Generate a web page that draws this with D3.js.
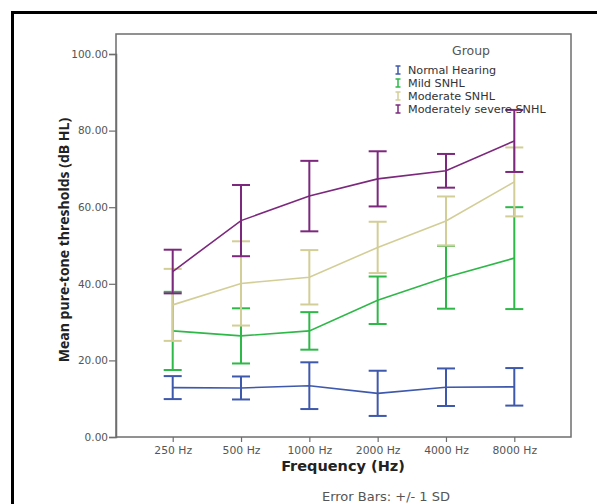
<!DOCTYPE html>
<html>
<head>
<meta charset="utf-8">
<script src="https://cdn.jsdelivr.net/npm/d3@7"></script>
<style>
  html, body { margin: 0; padding: 0; background: #fff; }
  svg { display: block; font-family: "DejaVu Sans", sans-serif; }
</style>
</head>
<body>
<svg id="chart" width="597" height="504"></svg>
<script>
// Frequencies on the x axis
const frequencies = ["250 Hz", "500 Hz", "1000 Hz", "2000 Hz", "4000 Hz", "8000 Hz"];
// Hearing groups (legend order)
const groups = ["Normal Hearing", "Mild SNHL", "Moderate SNHL", "Moderately severe SNHL"];
const groupColors = ["#3E58AC", "#2EB848", "#D3CE97", "#7C287D"];

// Mean thresholds (dB HL) per group
const meanNormal   = [12.9, 12.8, 13.4, 11.4, 13.0, 13.1];
const meanMild     = [27.7, 26.4, 27.7, 35.7, 41.7, 46.7];
const meanModerate = [34.5, 40.1, 41.7, 49.5, 56.4, 66.6];
const meanModSev   = [43.2, 56.5, 62.9, 67.4, 69.5, 77.3];
// Standard deviations per group
const sdNormal   = [3.0, 3.0, 6.1, 5.9, 4.9, 4.9];
const sdMild     = [10.2, 7.2, 4.9, 6.2, 8.2, 13.3];
const sdModerate = [9.4, 11.0, 7.1, 6.7, 6.4, 9.0];
const sdModSev   = [5.7, 9.3, 9.2, 7.2, 4.4, 8.1];

const yTicks = [0, 20, 40, 60, 80, 100];

const means = [meanNormal, meanMild, meanModerate, meanModSev];
const sds = [sdNormal, sdMild, sdModerate, sdModSev];

const svg = d3.select("#chart");

// outer border
svg.append("rect")
  .attr("x", 12.5).attr("y", 12.5)
  .attr("width", 620).attr("height", 620)
  .attr("fill", "none").attr("stroke", "#000").attr("stroke-width", 3);

const plot = { left: 116, right: 571, top: 34, bottom: 437 };

const x = d3.scalePoint()
  .domain(frequencies)
  .range([plot.left, plot.right])
  .padding(0.83);

const y = d3.scaleLinear()
  .domain([0, 100])
  .range([plot.bottom, 54]);

// plot frame
svg.append("rect")
  .attr("x", plot.left).attr("y", plot.top)
  .attr("width", plot.right - plot.left).attr("height", plot.bottom - plot.top)
  .attr("fill", "none").attr("stroke", "#6e6e6e").attr("stroke-width", 1.5);

// y axis
const yAxis = svg.append("g")
  .attr("transform", `translate(${plot.left},0)`)
  .call(d3.axisLeft(y).tickValues(yTicks).tickFormat(d3.format(".2f")).tickSize(7).tickPadding(1));
yAxis.select(".domain").attr("stroke", "#6e6e6e").attr("stroke-width", 1.5);
yAxis.selectAll(".tick line").attr("stroke", "#6e6e6e").attr("stroke-width", 1.2);
yAxis.selectAll(".tick text").attr("fill", "#555").attr("font-size", 10.5)
  .attr("font-family", "DejaVu Sans, sans-serif");

// x axis
const xAxis = svg.append("g")
  .attr("transform", `translate(0,${plot.bottom})`)
  .call(d3.axisBottom(x).tickSize(5).tickPadding(4));
xAxis.select(".domain").remove();
xAxis.selectAll(".tick line").attr("stroke", "#6e6e6e").attr("stroke-width", 1.2);
xAxis.selectAll(".tick text").attr("fill", "#555").attr("font-size", 10.8)
  .attr("font-family", "DejaVu Sans, sans-serif");

// axis titles
svg.append("text")
  .attr("x", 343).attr("y", 471)
  .attr("text-anchor", "middle")
  .attr("font-family", "DejaVu Sans, sans-serif")
  .attr("font-weight", "bold").attr("font-size", 14.5)
  .attr("fill", "#222")
  .text("Frequency (Hz)");

svg.append("text")
  .attr("transform", "translate(69,240) rotate(-90)")
  .attr("text-anchor", "middle")
  .attr("font-family", "Open Sans, sans-serif")
  .attr("font-weight", "bold").attr("font-size", 14)
  .attr("fill", "#222")
  .text("Mean pure-tone thresholds (dB HL)");

svg.append("text")
  .attr("x", 386).attr("y", 501)
  .attr("text-anchor", "middle")
  .attr("font-size", 13)
  .attr("fill", "#555")
  .text("Error Bars: +/- 1 SD");

// series: lines and error bars
const line = d3.line()
  .x((d, i) => x(frequencies[i]))
  .y(d => y(d));

const capHalf = 9;
groups.forEach((g, gi) => {
  const color = groupColors[gi];
  const layer = svg.append("g");
  layer.append("path")
    .datum(means[gi])
    .attr("d", line)
    .attr("fill", "none")
    .attr("stroke", color)
    .attr("stroke-width", 1.6);

  const bars = layer.selectAll("g.bar")
    .data(frequencies.map((f, i) => ({ f, m: means[gi][i], s: sds[gi][i] })))
    .join("g").attr("class", "bar")
    .attr("stroke", color).attr("stroke-width", 2);
  bars.append("line")
    .attr("x1", d => x(d.f)).attr("x2", d => x(d.f))
    .attr("y1", d => y(d.m + d.s)).attr("y2", d => y(d.m - d.s));
  bars.append("line")
    .attr("x1", d => x(d.f) - capHalf).attr("x2", d => x(d.f) + capHalf)
    .attr("y1", d => y(d.m + d.s)).attr("y2", d => y(d.m + d.s));
  bars.append("line")
    .attr("x1", d => x(d.f) - capHalf).attr("x2", d => x(d.f) + capHalf)
    .attr("y1", d => y(d.m - d.s)).attr("y2", d => y(d.m - d.s));
});

// legend
const legend = svg.append("g");
legend.append("text")
  .attr("x", 471).attr("y", 55)
  .attr("text-anchor", "middle")
  .attr("font-size", 12.5).attr("fill", "#555")
  .text("Group");

groups.forEach((g, gi) => {
  const cy = 70 + gi * 13;
  const item = legend.append("g");
  const ic = item.append("g").attr("stroke", groupColors[gi]).attr("stroke-width", 1.5);
  ic.append("line").attr("x1", 398).attr("x2", 398).attr("y1", cy - 4).attr("y2", cy + 4);
  ic.append("line").attr("x1", 395.5).attr("x2", 400.5).attr("y1", cy - 4).attr("y2", cy - 4);
  ic.append("line").attr("x1", 395.5).attr("x2", 400.5).attr("y1", cy + 4).attr("y2", cy + 4);
  item.append("text")
    .attr("x", 408).attr("y", cy + 4)
    .attr("font-size", 11.2).attr("fill", "#333")
    .text(g);
});
</script>
</body>
</html>
